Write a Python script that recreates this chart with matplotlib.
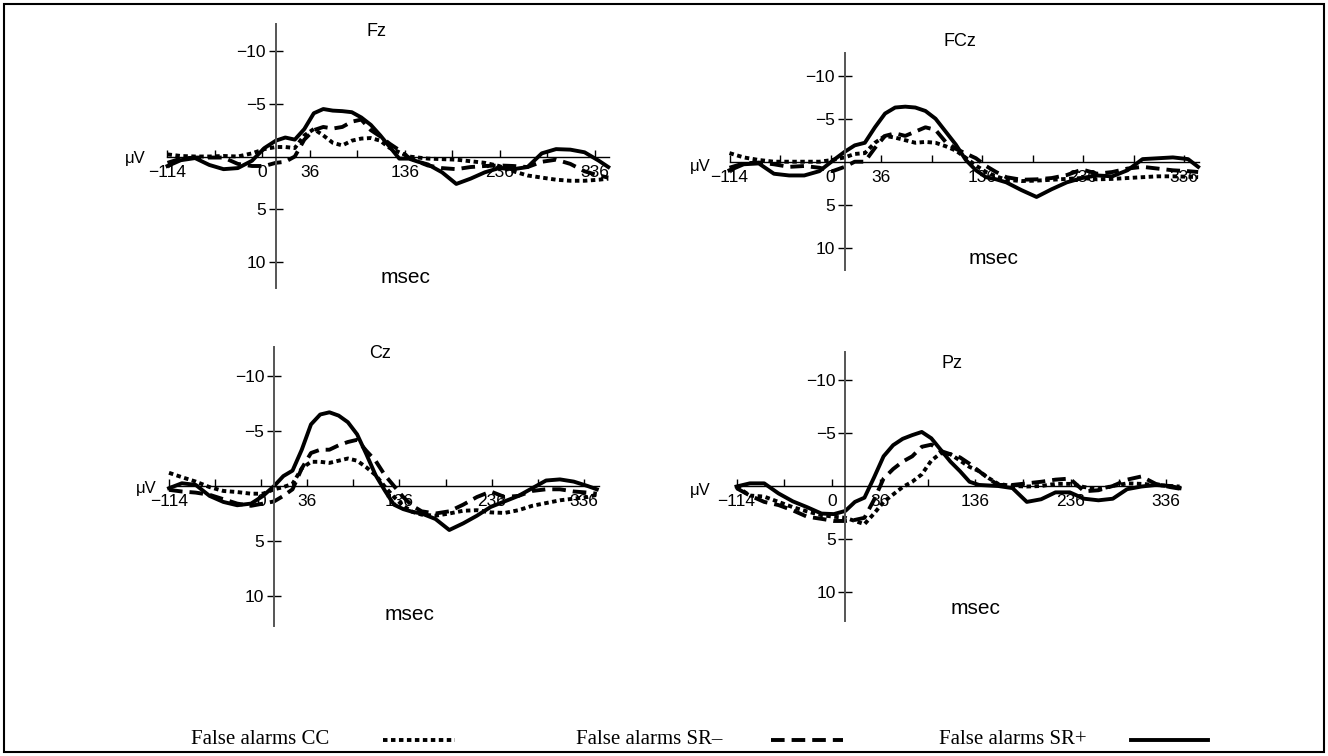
import matplotlib
matplotlib.use("Agg")
import matplotlib.pyplot as plt
from matplotlib.lines import Line2D
from matplotlib.patches import Rectangle

plt.rcParams["font.family"] = ["Liberation Sans", "DejaVu Sans"]

# sample times (ms) shared by every trace
times = [-114, -100, -85, -70, -55, -40, -25, -12, 0, 10, 20, 30, 40, 50, 60, 70, 80, 90,
         100, 110, 120, 130, 140, 150, 160, 175, 190, 205, 220, 235, 250, 265, 280, 295,
         310, 325, 340, 350]

# amplitudes in microvolts (negative up)
fz_cc = [-0.2, -0.05, 0, 0, -0.05, 0, -0.3, -0.7, -0.9, -0.9, -0.8, -2.0, -2.6, -2.0, -1.3,
         -1.05, -1.5, -1.7, -1.75, -1.5, -0.8, -0.4, 0.0, 0.1, 0.2, 0.25, 0.3, 0.45, 0.6, 0.9,
         1.4, 1.8, 2.0, 2.2, 2.3, 2.3, 2.2, 2.1]
fz_srm = [0.6, 0.2, 0.1, 0.1, 0.1, 0.7, 0.9, 0.9, 0.6, 0.5, 0.0, -1.6, -2.5, -2.8, -2.65,
          -2.8, -3.3, -3.5, -2.5, -1.9, -1.2, -0.6, 0.1, 0.5, 0.85, 1.1, 1.2, 1.0, 0.9, 0.85,
          0.9, 1.0, 0.5, 0.3, 0.7, 1.4, 1.8, 2.0]
fz_srp = [0.9, 0.35, 0.15, 0.8, 1.2, 1.1, 0.4, -0.8, -1.5, -1.8, -1.6, -2.6, -4.1, -4.5,
          -4.35, -4.3, -4.2, -3.7, -3.0, -2.0, -0.9, 0.2, 0.2, 0.5, 0.75, 1.5, 2.6, 2.1, 1.5,
          1.1, 1.2, 1.0, -0.3, -0.7, -0.65, -0.4, 0.4, 1.0]

fcz_cc = [-1.0, -0.5, -0.2, 0, 0, 0, 0, -0.2, -0.5, -0.9, -1.0, -2.2, -3.0, -2.8, -2.5,
          -2.2, -2.3, -2.2, -1.8, -1.3, -0.45, 0.45, 1.2, 1.7, 2.1, 2.25, 2.2, 2.1, 2.0, 1.9,
          2.05, 2.0, 1.9, 1.8, 1.7, 1.7, 1.75, 1.8]
fcz_srm = [0.7, 0.2, 0.1, 0.3, 0.6, 0.5, 0.7, 1.1, 0.6, 0.0, 0.0, -1.6, -3.0, -3.3, -3.0,
           -3.5, -4.0, -3.7, -2.3, -1.5, -0.95, -0.4, 0.5, 1.2, 1.8, 2.1, 2.05, 1.9, 1.55,
           0.9, 1.4, 1.2, 0.8, 0.6, 0.8, 1.0, 1.1, 1.2]
fcz_srp = [1.0, 0.3, 0.2, 1.4, 1.6, 1.6, 1.1, -0.1, -1.15, -1.9, -2.2, -4.0, -5.6, -6.3,
           -6.4, -6.3, -5.9, -5.0, -3.5, -2.0, -0.2, 1.0, 1.8, 2.05, 2.4, 3.3, 4.1, 3.2, 2.4,
           1.9, 1.6, 1.7, 1.0, -0.3, -0.4, -0.5, -0.3, 0.6]

cz_cc = [-1.2, -0.8, -0.4, 0.1, 0.45, 0.55, 0.7, 0.7, 0.3, 0.1, -0.2, -1.6, -2.2, -2.2,
         -2.1, -2.3, -2.5, -2.3, -1.7, -1.0, 0.05, 1.0, 1.8, 2.35, 2.6, 2.7, 2.5, 2.25, 2.2,
         2.4, 2.45, 2.2, 1.8, 1.55, 1.3, 1.15, 1.0, 0.8]
cz_srm = [0.35, 0.5, 0.6, 0.8, 1.2, 1.6, 1.8, 1.6, 1.4, 0.9, 0.3, -1.6, -3.0, -3.3, -3.3,
          -3.7, -4.0, -4.2, -3.2, -2.3, -1.0, 0.0, 1.0, 1.8, 2.3, 2.5, 2.3, 1.7, 1.0, 0.5,
          1.0, 0.9, 0.45, 0.3, 0.3, 0.5, 0.6, 0.7]
cz_srp = [0.2, -0.25, -0.1, 0.9, 1.45, 1.75, 1.6, 0.9, 0.0, -0.9, -1.4, -3.3, -5.6, -6.5,
          -6.7, -6.4, -5.8, -4.7, -2.9, -1.0, 0.4, 1.7, 2.1, 2.35, 2.5, 3.0, 4.0, 3.4, 2.7,
          1.9, 1.4, 0.9, 0.2, -0.5, -0.6, -0.4, 0.0, 0.3]

pz_cc = [0.05, 0.9, 1.0, 1.5, 2.0, 2.4, 2.75, 2.9, 3.0, 3.3, 3.6, 2.6, 1.5, 0.8, 0.1, -0.4,
         -1.1, -2.4, -3.1, -3.0, -2.4, -1.8, -1.4, -0.75, -0.2, 0.0, 0.05, 0.0, -0.2, -0.2,
         0.1, 0.3, 0.0, -0.25, -0.2, -0.1, 0.0, 0.05]
pz_srm = [0.2, 0.9, 1.5, 1.8, 2.3, 2.9, 3.1, 3.3, 3.3, 3.2, 3.0, 1.3, -0.7, -1.6, -2.3,
          -2.8, -3.7, -3.9, -3.3, -3.0, -2.7, -2.1, -1.4, -0.7, -0.1, -0.1, -0.25, -0.4,
          -0.6, -0.7, 0.5, 0.4, 0.0, -0.6, -0.9, -0.2, 0.1, 0.25]
pz_srp = [0.05, -0.25, -0.25, 0.7, 1.45, 2.0, 2.6, 2.65, 2.35, 1.5, 1.1, -0.8, -2.8, -3.85,
          -4.45, -4.8, -5.1, -4.5, -3.4, -2.3, -1.4, -0.4, -0.1, -0.05, 0.0, 0.2, 1.5, 1.25,
          0.6, 0.6, 1.2, 1.35, 1.2, 0.3, 0.05, -0.1, 0.0, 0.2]

xtick_pos = [-114, -64, -14, 36, 86, 136, 186, 236, 286, 336]
xtick_lab = ["\u2212114", "", "0", "36", "", "136", "", "236", "", "336"]
ytick_pos = [-10, -5, 5, 10]
ytick_lab = ["\u221210", "\u22125", "5", "10"]
legend_labels = ["False alarms CC", "False alarms SR\u2013", "False alarms SR+"]

W, H = 1328, 756
fig = plt.figure(figsize=(W / 100, H / 100), dpi=100)

styles = [
    dict(color="black", lw=2.8, linestyle=(0, (1.15, 0.9)), solid_joinstyle="round"),
    dict(color="black", lw=2.8, linestyle=(0, (3.5, 1.8)), solid_joinstyle="round"),
    dict(color="black", lw=2.8, linestyle="-", solid_joinstyle="round"),
]

# pixel geometry of each panel: x of -114 ms, px per ms, y of 0 uV, px per uV,
# axis top / bottom / right end, plus label positions
panels = [
    ("Fz", [fz_cc, fz_srm, fz_srp],
     dict(x0=167.5, sx=0.95, y0=156.5, sy=10.55, top=24, bot=288, right=609,
          title=(377, 32), msec=(405, 278), uv=(135, 158))),
    ("FCz", [fcz_cc, fcz_srm, fcz_srp],
     dict(x0=729.5, sx=1.01, y0=161.7, sy=8.6, top=53, bot=270, right=1199,
          title=(960, 41), msec=(993, 258), uv=(700, 167))),
    ("Cz", [cz_cc, cz_srm, cz_srp],
     dict(x0=169, sx=0.922, y0=486, sy=11.0, top=347, bot=626, right=599,
          title=(380, 353), msec=(410, 615), uv=(146, 488))),
    ("Pz", [pz_cc, pz_srm, pz_srp],
     dict(x0=736.5, sx=0.955, y0=486, sy=10.6, top=352, bot=621, right=1180,
          title=(952, 363), msec=(976, 608), uv=(700, 491))),
]

for name, series, g in panels:
    ax = fig.add_axes([g["x0"] / W, 1 - g["bot"] / H,
                       (g["right"] - g["x0"]) / W, (g["bot"] - g["top"]) / H])
    ax.set_xlim(-114, -114 + (g["right"] - g["x0"]) / g["sx"])
    ax.set_ylim((g["bot"] - g["y0"]) / g["sy"], -(g["y0"] - g["top"]) / g["sy"])
    ax.patch.set_visible(False)
    ax.spines["top"].set_visible(False)
    ax.spines["right"].set_visible(False)
    ax.spines["left"].set_position(("data", 0))
    ax.spines["bottom"].set_position(("data", 0))
    ax.spines["left"].set_color("#555555")
    ax.spines["left"].set_linewidth(1.4)
    ax.spines["bottom"].set_linewidth(1.0)

    ax.set_xticks(xtick_pos)
    ax.set_xticklabels(xtick_lab)
    ax.set_yticks(ytick_pos)
    ax.set_yticklabels(ytick_lab)
    ax.tick_params(axis="x", direction="in", length=5, width=1, pad=6, labelsize=12.5)
    ax.tick_params(axis="y", direction="inout", length=10, width=1, pad=2, labelsize=12.5)

    for vals, st in zip(series, styles):
        ax.plot(times, vals, clip_on=False, **st)

    fig.text(g["title"][0] / W, 1 - g["title"][1] / H, name, ha="center", va="center",
             fontsize=13)
    fig.text(g["msec"][0] / W, 1 - g["msec"][1] / H, "msec", ha="center", va="center",
             fontsize=15)
    fig.text(g["uv"][0] / W, 1 - g["uv"][1] / H, "\u03bcV", ha="center", va="center",
             fontsize=12)

# legend along the bottom
legend_text_x = [191, 576, 939]
legend_line_x = [(383, 455), (771, 843), (1131, 1208)]
ly = 1 - 740 / H
for lab, tx, (x1, x2), st in zip(legend_labels, legend_text_x, legend_line_x, styles):
    fig.text(tx / W, ly, lab, ha="left", va="center", fontsize=15,
             family=["Liberation Serif", "DejaVu Serif"])
    fig.add_artist(Line2D([x1 / W, x2 / W], [ly, ly], transform=fig.transFigure, **st))

fig.add_artist(Rectangle((4 / W, 4 / H), (W - 8) / W, (H - 8) / H,
                         transform=fig.transFigure, fill=False, lw=1.5, ec="black"))

fig.savefig("out.png", dpi=100)
plt.close(fig)
